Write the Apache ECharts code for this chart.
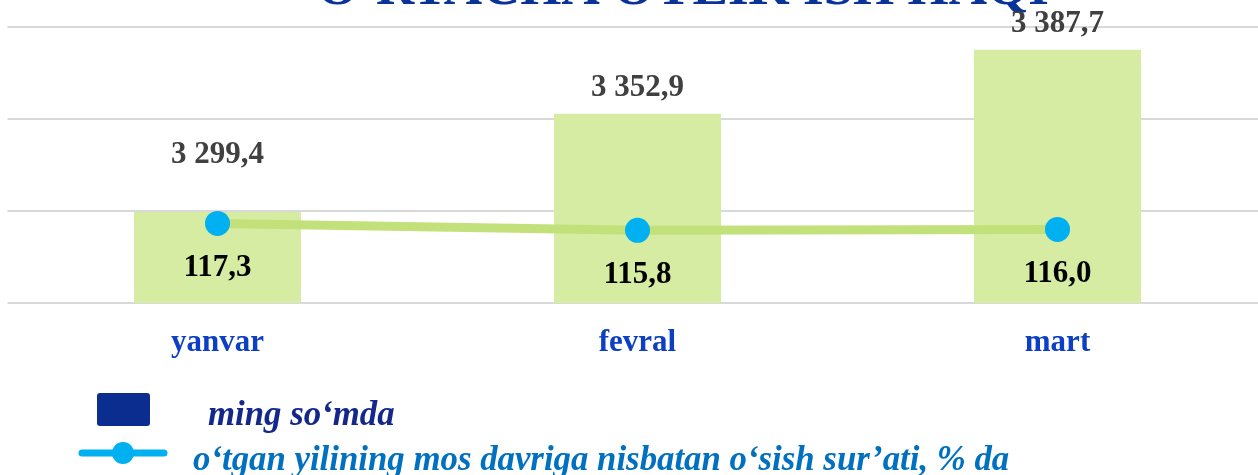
<!DOCTYPE html>
<html>
<head>
<meta charset="utf-8">
<script src="https://cdn.jsdelivr.net/npm/echarts@6/dist/echarts.min.js"></script>
<style>html,body{margin:0;padding:0;background:#fff;overflow:hidden;}#c{width:1268px;height:475px;}</style>
</head>
<body>
<div id="c"></div>
<script>
const categories = ['yanvar', 'fevral', 'mart'];
const wageValues = [3299.4, 3352.9, 3387.7];
const growthValues = [117.3, 115.8, 116.0];
const titleText = 'O‘RTACHA OYLIK ISH HAQI';
const legendBar = 'ming so‘mda';
const legendLine = 'o‘tgan yilining mos davriga nisbatan o‘sish sur’ati, % da';

const fmt = v => {
  const parts = v.toFixed(1).split('.');
  const int = parts[0].replace(/\B(?=(\d{3})+(?!\d))/g, ' ');
  return int + ',' + parts[1];
};
const serif = '"Liberation Serif", "Times New Roman", serif';

const chart = echarts.init(document.getElementById('c'));
chart.setOption({
  animation: false,
  backgroundColor: '#fff',
  grid: { left: 7.5, right: 0.5, top: 27, height: 276, containLabel: false },
  xAxis: {
    type: 'category', data: categories,
    axisLine: { show: false }, axisTick: { show: false },
    axisLabel: { margin: 24, color: '#0d3fc4', fontSize: 31, fontWeight: 'bold', fontFamily: serif }
  },
  yAxis: [
    { type: 'value', min: 3250, max: 3400, interval: 50,
      axisLabel: { show: false }, axisLine: { show: false }, axisTick: { show: false },
      splitLine: { lineStyle: { color: '#d9d9d9', width: 2 } } },
    { type: 'value', min: 100, max: 160, show: false, splitLine: { show: false } }
  ],
  series: [
    {
      type: 'bar', yAxisIndex: 0, barWidth: 167,
      data: wageValues.map((v, i) => ({ value: v, label: { distance: i === 0 ? 42 : 10 } })),
      itemStyle: { color: '#d5eca2' },
      label: { show: true, position: 'top', formatter: p => fmt(p.value),
        color: '#404040', fontSize: 31, fontWeight: 'bold', fontFamily: serif }
    },
    {
      type: 'line', yAxisIndex: 1, data: growthValues,
      lineStyle: { color: '#c3e17a', width: 9 },
      symbol: 'circle', symbolSize: 25,
      itemStyle: { color: '#00b0f0' },
      label: { show: true, position: 'bottom', distance: 17, formatter: p => fmt(p.value),
        color: '#000', fontSize: 31, fontWeight: 'bold', fontFamily: serif }
    }
  ],
  graphic: [
    { type: 'text', x: 683, y: -36, z: 0,
      style: { text: titleText, fill: '#0a3399', fontSize: 53, fontWeight: 'bold', fontFamily: serif, align: 'center' } },
    { type: 'rect', shape: { x: 97, y: 393, width: 53, height: 33, r: 3 }, style: { fill: '#0b2d8f' } },
    { type: 'text', x: 208, y: 416, style: { text: legendBar, fill: '#14288c', fontSize: 34.8, fontWeight: 'bold', fontStyle: 'italic', fontFamily: serif, verticalAlign: 'middle' } },
    { type: 'line', shape: { x1: 82, y1: 453, x2: 164, y2: 453 }, style: { stroke: '#00b0f0', lineWidth: 7, lineCap: 'round' } },
    { type: 'circle', shape: { cx: 123, cy: 453, r: 11 }, style: { fill: '#00b0f0' } },
    { type: 'text', x: 193, y: 461, style: { text: legendLine, fill: '#0070c0', fontSize: 34.8, fontWeight: 'bold', fontStyle: 'italic', fontFamily: serif, verticalAlign: 'middle' } }
  ]
});
</script>
</body>
</html>
